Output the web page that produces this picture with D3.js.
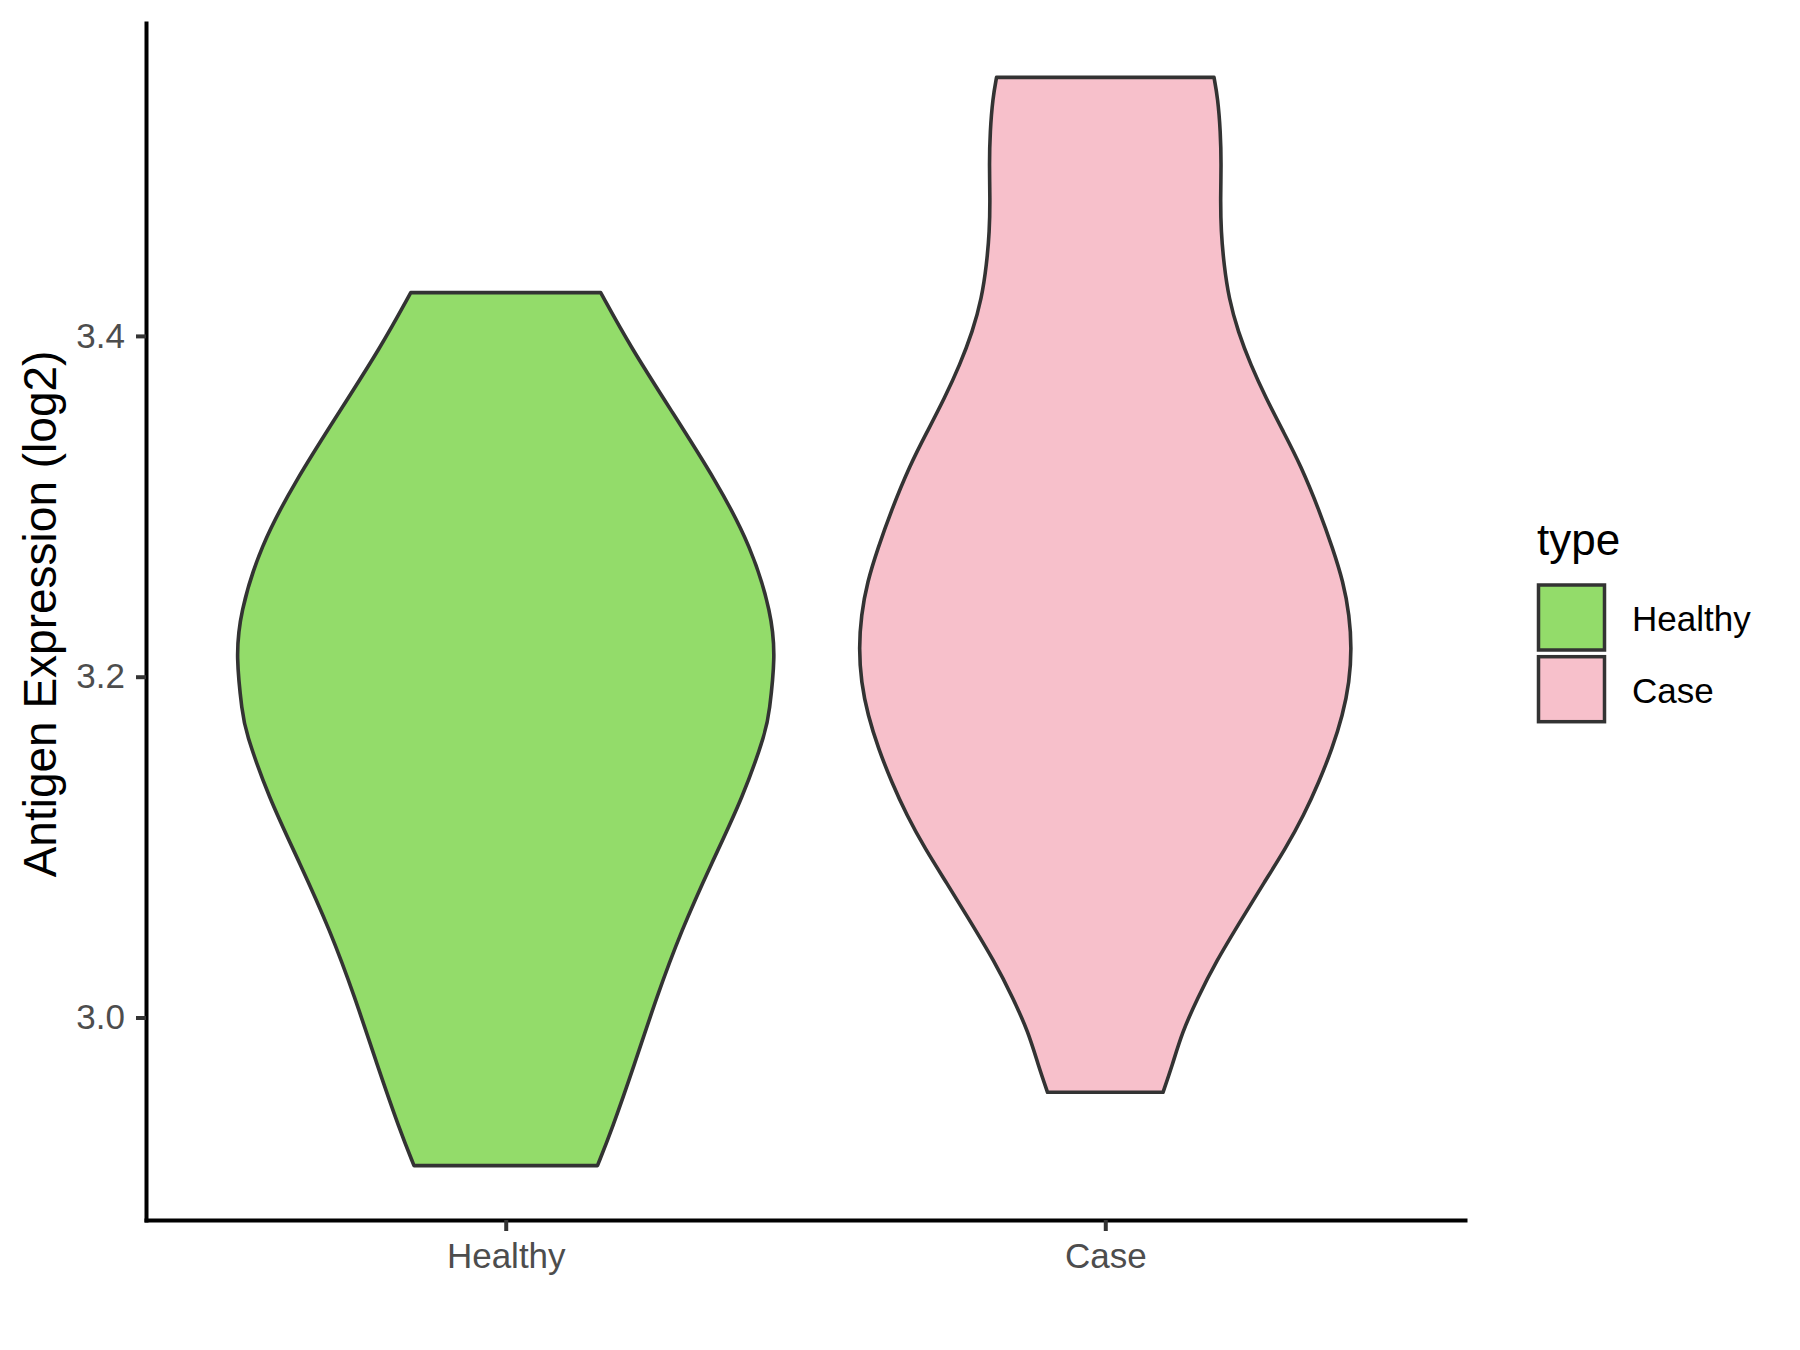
<!DOCTYPE html>
<html>
<head>
<meta charset="utf-8">
<script src="https://cdn.jsdelivr.net/npm/d3@7"></script>
<style>
  html, body { margin: 0; padding: 0; background: #ffffff; }
  svg { display: block; }
  text { font-family: "Liberation Sans", Arial, Helvetica, sans-serif; }
</style>
</head>
<body>
<svg id="chart" width="1800" height="1350"></svg>
<script>
// ---- data ----
const categories = ["Healthy", "Case"];
const fillColors = ["#93DC6A", "#F7C0CB"];
const yTicks = [3.0, 3.2, 3.4];
const yTickLabels = ["3.0", "3.2", "3.4"];
const yTitle = "Antigen Expression (log2)";
const legendTitle = "type";

// violin outlines: expression value and relative density (1 = widest violin)
const healthyValues = [3.4254, 3.3937, 3.3546, 3.3154, 3.2762, 3.2371, 3.2116, 3.1784,
                       3.1686, 3.1294, 3.0903, 3.0511, 3.0119, 2.9728, 2.9336, 2.9131];
const healthyDensity = [0.352, 0.462, 0.620, 0.778, 0.911, 0.985, 1.000, 0.976,
                        0.966, 0.880, 0.762, 0.651, 0.559, 0.478, 0.392, 0.340];

const caseValues = [3.5517, 3.5396, 3.5200, 3.5004, 3.4809, 3.4613, 3.4417, 3.4221,
                    3.4025, 3.3830, 3.3634, 3.3438, 3.3242, 3.2968, 3.2753, 3.2557,
                    3.2361, 3.2166, 3.1969, 3.1774, 3.1578, 3.1382, 3.1187, 3.0991,
                    3.0795, 3.0599, 3.0325, 3.0110, 2.9914, 2.9718, 2.9561];
const caseDensity = [0.403, 0.417, 0.427, 0.430, 0.427, 0.429, 0.440, 0.458,
                     0.492, 0.539, 0.596, 0.660, 0.724, 0.795, 0.843, 0.882,
                     0.905, 0.913, 0.905, 0.880, 0.841, 0.792, 0.736, 0.668,
                     0.590, 0.514, 0.409, 0.341, 0.285, 0.248, 0.214];

const violins = [
  { cat: "Healthy", values: healthyValues, density: healthyDensity },
  { cat: "Case", values: caseValues, density: caseDensity }
];

// ---- layout ----
const svg = d3.select("#chart");
const panel = { left: 146, right: 1465, top: 23, bottom: 1220 };

const allVals = healthyValues.concat(caseValues);
const [vmin, vmax] = d3.extent(allVals);
const pad = (vmax - vmin) * 0.05;

const y = d3.scaleLinear().domain([vmin - pad, vmax + pad]).range([panel.bottom, panel.top]);
const x = d3.scalePoint().domain(categories).range([panel.left, panel.right]).padding(0.6);
const color = d3.scaleOrdinal().domain(categories).range(fillColors);
const w = d3.scaleLinear().domain([0, 1]).range([0, 0.45 * x.step()]);

// ---- violins ----
const area = d3.area().curve(d3.curveBasis);
violins.forEach(v => {
  const pts = v.values.map((val, i) => ({ val, d: v.density[i] }));
  const cx = x(v.cat);
  area.y(p => y(p.val)).x0(p => cx - w(p.d)).x1(p => cx + w(p.d));
  svg.append("path")
    .attr("d", area(pts))
    .attr("fill", color(v.cat))
    .attr("stroke", "#333333")
    .attr("stroke-width", 3.6)
    .attr("stroke-linejoin", "round");
});

// ---- axes ----
const yAxis = d3.axisLeft(y).tickValues(yTicks)
  .tickFormat((d, i) => yTickLabels[i]).tickSize(10).tickSizeOuter(0).tickPadding(11);
const gy = svg.append("g").attr("transform", `translate(${panel.left},0)`).call(yAxis);

const xAxis = d3.axisBottom(x).tickSize(11).tickSizeOuter(0).tickPadding(12);
const gx = svg.append("g").attr("transform", `translate(0,${panel.bottom})`).call(xAxis);

[gy, gx].forEach(g => {
  g.select(".domain").attr("stroke", "#000").attr("stroke-width", 4).attr("stroke-linecap", "square");
  g.selectAll(".tick line").attr("stroke", "#333333").attr("stroke-width", 4);
  g.selectAll(".tick text").attr("fill", "#4D4D4D").style("font-size", "35px")
    .style("font-family", '"Liberation Sans", Arial, sans-serif');
});

// y title
svg.append("text")
  .attr("transform", `translate(56,614) rotate(-90)`)
  .attr("text-anchor", "middle")
  .style("font-size", "46px")
  .attr("fill", "#000")
  .text(yTitle);

// ---- legend ----
const lg = svg.append("g");
lg.append("text").attr("x", 1537).attr("y", 555).style("font-size", "44px").attr("fill", "#000").text(legendTitle);
categories.forEach((c, i) => {
  const top = 583.3 + i * 71.7;
  lg.append("rect")
    .attr("x", 1538.5).attr("y", top + 1.7)
    .attr("width", 66).attr("height", 65)
    .attr("fill", color(c)).attr("stroke", "#333333").attr("stroke-width", 3.5);
  lg.append("text").attr("x", 1632).attr("y", top + 47.5)
    .style("font-size", "35px").attr("fill", "#000").text(c);
});
</script>
</body>
</html>
